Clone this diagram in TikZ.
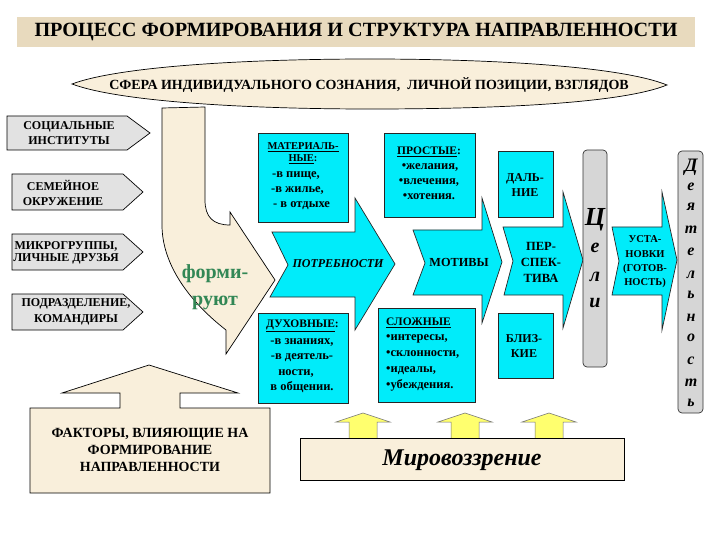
\documentclass[tikz,border=0pt]{standalone}
\usepackage{fontspec}
\setmainfont{Liberation Serif}[BoldFont={Liberation Serif Bold}, ItalicFont={Liberation Serif Italic}, BoldItalicFont={Liberation Serif Bold Italic}]
\definecolor{cyanf}{RGB}{0,236,250}
\definecolor{beigef}{RGB}{249,239,219}
\definecolor{titlef}{RGB}{232,218,190}
\definecolor{grayf}{RGB}{226,226,226}
\definecolor{barf}{RGB}{214,214,214}
\definecolor{yelf}{RGB}{255,255,110}
\definecolor{grn}{RGB}{50,135,85}
\begin{document}
\begin{tikzpicture}[x=1pt,y=-1pt,
  every node/.style={inner sep=0pt},
  cyanshape/.style={draw=black!85, fill=cyanf, line width=0.7pt},
  grayshape/.style={draw=black, fill=grayf, line width=0.7pt},
  beigeshape/.style={draw=black, fill=beigef, line width=0.7pt},
  barshape/.style={draw=black!80, fill=barf, line width=0.7pt, rounded corners=4pt},
  yelarrow/.style={draw=black!55, fill=yelf, line width=0.5pt},
  lefttxt/.style={font=\fontsize{12}{15}\selectfont\bfseries, align=center},
  bx/.style={font=\fontsize{11.5}{12}\selectfont\bfseries, text height=8pt, text depth=2.5pt},
  bxl/.style={font=\fontsize{12.5}{13}\selectfont\bfseries, text height=8pt, text depth=2.5pt},
  mid/.style={font=\fontsize{12}{15}\selectfont\bfseries, align=center},
  vlet/.style={font=\fontsize{16}{16}\selectfont\bfseries\itshape},
]
\useasboundingbox (0,0) rectangle (720,540);
% title
\fill[titlef] (17,17) rectangle (695,47);
\node[font=\fontsize{20.2}{21}\selectfont\bfseries] (title) at (356,32) {ПРОЦЕСС ФОРМИРОВАНИЯ И СТРУКТУРА НАПРАВЛЕННОСТИ};
% ellipse
\draw[beigeshape] (72,84) .. controls (120,66) and (250,59) .. (370,59) .. controls (490,59) and (620,66) .. (667,85) .. controls (620,104) and (490,109) .. (370,109) .. controls (250,109) and (120,102) .. cycle;
\node[font=\fontsize{14}{15}\selectfont\bfseries] (sfera) at (369,85) {СФЕРА ИНДИВИДУАЛЬНОГО СОЗНАНИЯ,\ \ ЛИЧНОЙ ПОЗИЦИИ, ВЗГЛЯДОВ};
% left gray arrows
\draw[grayshape] (7,116) -- (127,116) -- (150,133) -- (127,150) -- (7,150) -- cycle;
\node[lefttxt] (soc) at (69,133) {СОЦИАЛЬНЫЕ\\ИНСТИТУТЫ};
\draw[grayshape] (12,174) -- (123,174) -- (143,192) -- (123,210) -- (12,210) -- cycle;
\node[lefttxt] (fam) at (63,193) {СЕМЕЙНОЕ\\ОКРУЖЕНИЕ};
\draw[grayshape] (12,234) -- (123,234) -- (143,252) -- (123,270) -- (12,270) -- cycle;
\node[lefttxt, font=\fontsize{12}{12.5}\selectfont\bfseries] (micro) at (66,253) {МИКРОГРУППЫ,\\ЛИЧНЫЕ ДРУЗЬЯ};
\draw[grayshape] (12,294) -- (123,294) -- (143,312) -- (123,330) -- (12,330) -- cycle;
\node[lefttxt, font=\fontsize{12}{16.5}\selectfont\bfseries] (podr) at (76,312) {ПОДРАЗДЕЛЕНИЕ,\\КОМАНДИРЫ};
% curved arrow
\draw[beigeshape] (162,108) -- (205,107) -- (205,200) .. controls (205,217) and (213,225) .. (230,225) -- (230,212) -- (275,280) -- (226,354) -- (226,330) .. controls (190,302) and (162,265) .. (162,225) -- cycle;
\node[font=\fontsize{20}{27}\selectfont\bfseries, text=grn, align=center] (form) at (215,287) {форми-\\руют};
% cyan boxes
\draw[cyanshape] (258,133) rectangle (348,222);
\node[bx, font=\fontsize{10.5}{11}\selectfont\bfseries] (m1) at (303,147) {\underline{МАТЕРИАЛЬ-}};
\node[bx, font=\fontsize{10.5}{11}\selectfont\bfseries] (m2) at (303,159) {\underline{НЫЕ}:};
\node[bxl, anchor=west] (m3) at (272,175) {-в пище,};
\node[bxl, anchor=west] (m4) at (271,190) {-в жилье,};
\node[bxl, anchor=west] (m5) at (273,205) {- в отдыхе};
\draw[cyanshape] (258,313) rectangle (348,403);
\node[bx, anchor=west] (d1) at (266,325) {\underline{ДУХОВНЫЕ}:};
\node[bxl] (d2) at (302,342) {-в знаниях,};
\node[bxl] (d3) at (302,357) {-в деятель-};
\node[bxl] (d4) at (296,373) {ности,};
\node[bxl] (d5) at (302,388) {в общении.};
\draw[cyanshape] (384,133) rectangle (475,217);
\node[bx] (p1) at (429,152) {\underline{ПРОСТЫЕ}:};
\node[bxl] (p2) at (430,167) {•желания,};
\node[bxl] (p3) at (429,182) {•влечения,};
\node[bxl] (p4) at (429,197) {•хотения.};
\draw[cyanshape] (378,308) rectangle (475,402);
\node[bx, anchor=west] (s1) at (386,323) {\underline{СЛОЖНЫЕ}};
\node[bxl, anchor=west] (s2) at (386,338) {•интересы,};
\node[bxl, anchor=west] (s3) at (386,354) {•склонности,};
\node[bxl, anchor=west] (s4) at (386,370) {•идеалы,};
\node[bxl, anchor=west] (s5) at (386,386) {•убеждения.};
\draw[cyanshape] (498,151) rectangle (553,217);
\node[mid] (dal) at (525,185) {ДАЛЬ-\\НИЕ};
\draw[cyanshape] (498,313) rectangle (553,378);
\node[mid] (bliz) at (524,346) {БЛИЗ-\\КИЕ};
% cyan arrows
\draw[cyanshape] (272,232) -- (355,232) -- (355,198) -- (395,264) -- (355,330) -- (355,297) -- (270,297) -- (288,265) -- cycle;
\node[font=\fontsize{12}{12}\selectfont\bfseries\itshape] (potr) at (338,264) {ПОТРЕБНОСТИ};
\draw[cyanshape] (413,230) -- (482,230) -- (482,198) -- (502,262) -- (482,323) -- (482,295) -- (413,295) -- (425,263) -- cycle;
\node[font=\fontsize{12.3}{12}\selectfont\bfseries] (motiv) at (459,262) {МОТИВЫ};
\draw[cyanshape] (503,227) -- (563,227) -- (563,192) -- (583,260) -- (563,328) -- (563,295) -- (504,295) -- (513,261) -- cycle;
\node[mid, font=\fontsize{12.5}{16}\selectfont\bfseries] (persp) at (541,262) {ПЕР-\\СПЕК-\\ТИВА};
\draw[cyanshape] (612,227) -- (662,227) -- (662,192) -- (677,260) -- (662,330) -- (662,295) -- (612,295) -- (619,261) -- cycle;
\node[mid, font=\fontsize{10.5}{14.3}\selectfont\bfseries] (ustan) at (645,262) {УСТА-\\НОВКИ\\(ГОТОВ-\\НОСТЬ)};
% bars
\draw[barshape] (583,150) rectangle (607,367);
\node[font=\fontsize{26}{26}\selectfont\bfseries\itshape] (c1) at (595,220) {Ц};
\node[vlet, font=\fontsize{20}{20}\selectfont\bfseries\itshape] (c2) at (595,248) {е};
\node[vlet, font=\fontsize{20}{20}\selectfont\bfseries\itshape] (c3) at (595,277) {л};
\node[vlet, font=\fontsize{20}{20}\selectfont\bfseries\itshape] (c4) at (595,303) {и};
\draw[barshape] (678,151) rectangle (703,413);
\node[vlet, font=\fontsize{19}{19}\selectfont\bfseries\itshape] (a1) at (691,167) {Д};
\foreach \l/\yy [count=\i] in {е/187,я/207,т/230,е/252,л/275,ь/295,н/318,о/338,с/361,т/383,ь/403}
  \node[vlet] (act\i) at (691,\yy) {\l};
% bottom factor box
\draw[beigeshape] (30,408) -- (120,408) -- (120,393) -- (62,393) -- (149,365) -- (238,393) -- (180,393) -- (180,408) -- (270,408) -- (270,493) -- (30,493) -- cycle;
\node[font=\fontsize{14}{17}\selectfont\bfseries, align=center] (fact) at (150,450) {ФАКТОРЫ, ВЛИЯЮЩИЕ НА\\ФОРМИРОВАНИЕ\\НАПРАВЛЕННОСТИ};
% yellow arrows and world view
\foreach \c in {363,465,549}
  \draw[yelarrow] (\c-14,440) -- (\c-14,422) -- (\c-27,422) -- (\c,413) -- (\c+27,422) -- (\c+14,422) -- (\c+14,440) -- cycle;
\draw[beigeshape] (300,438) rectangle (624,480);
\node[font=\fontsize{24}{26}\selectfont\bfseries\itshape] (mir) at (462,460) {Мировоззрение};
\end{tikzpicture}
\end{document}
